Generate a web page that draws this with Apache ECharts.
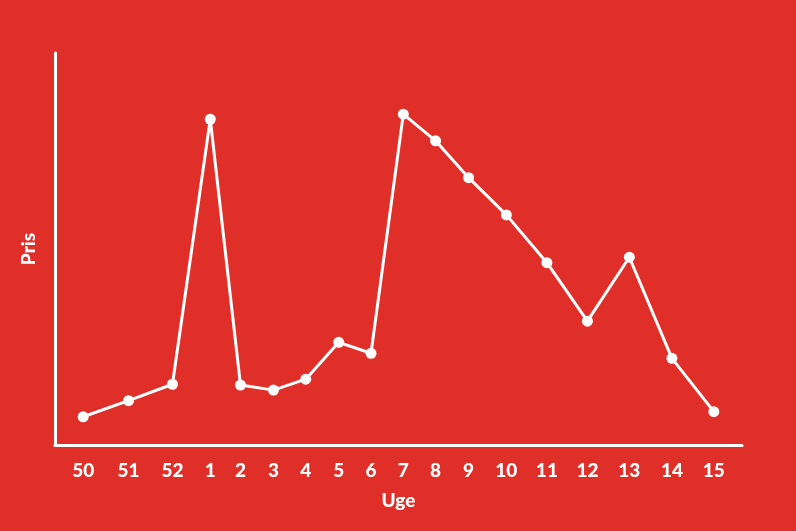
<!DOCTYPE html>
<html>
<head>
<meta charset="utf-8">
<script src="https://cdn.jsdelivr.net/npm/echarts@6/dist/echarts.min.js"></script>
<style>
html,body{margin:0;padding:0;background:#E02F28;}
#chart{width:796px;height:531px;}
</style>
</head>
<body>
<div id="chart"></div>
<script>
// Week labels (Uge)
var weeks = ['50','51','52','1','2','3','4','5','6','7','8','9','10','11','12','13','14','15'];
// Horizontal position of each week along the axis (0–100), as spaced in the reference
var weekPos = [4.1, 10.7, 17.1, 22.6, 27.0, 31.8, 36.5, 41.3, 46.0, 50.7, 55.4, 60.2, 65.7, 71.6, 77.5, 83.6, 89.8, 95.9];
// Price (Pris), relative scale 0–100
var prices = [7.2, 11.3, 15.5, 83.1, 15.3, 14.0, 16.8, 26.2, 23.4, 84.4, 77.6, 68.2, 58.7, 46.5, 31.6, 47.9, 22.1, 8.5];

var chart = echarts.init(document.getElementById('chart'));
var font = 'Lato, "Open Sans", sans-serif';
var pts = weekPos.map(function (x, i) { return [x, prices[i]]; });

chart.setOption({
  backgroundColor: '#E02F28',
  animation: false,
  grid: { left: 55, right: 54, top: 53, bottom: 86 },
  xAxis: {
    type: 'value',
    min: 0,
    max: 100,
    name: 'Uge',
    nameLocation: 'middle',
    nameGap: 46,
    nameTextStyle: { color: '#fff', fontFamily: font, fontWeight: 900, fontSize: 19 },
    axisLine: { show: true, onZero: false, lineStyle: { color: '#fff', width: 3 } },
    axisTick: { show: false },
    splitLine: { show: false },
    axisLabel: {
      customValues: weekPos,
      color: '#fff',
      fontFamily: font,
      fontWeight: 900,
      fontSize: 19,
      margin: 16,
      formatter: function (v) {
        var i = weekPos.indexOf(v);
        return i >= 0 ? weeks[i] : '';
      }
    }
  },
  yAxis: {
    type: 'value',
    min: 0,
    max: 100,
    name: 'Pris',
    nameLocation: 'middle',
    nameGap: 17,
    nameTextStyle: { color: '#fff', fontFamily: font, fontWeight: 900, fontSize: 19 },
    axisLine: { show: true, lineStyle: { color: '#fff', width: 3 } },
    axisTick: { show: false },
    axisLabel: { show: false },
    splitLine: { show: false }
  },
  series: [{
    type: 'line',
    data: pts,
    symbol: 'circle',
    symbolSize: 11,
    showAllSymbol: true,
    lineStyle: { color: '#fff', width: 3 },
    itemStyle: { color: '#fff' }
  }]
});
</script>
</body>
</html>
